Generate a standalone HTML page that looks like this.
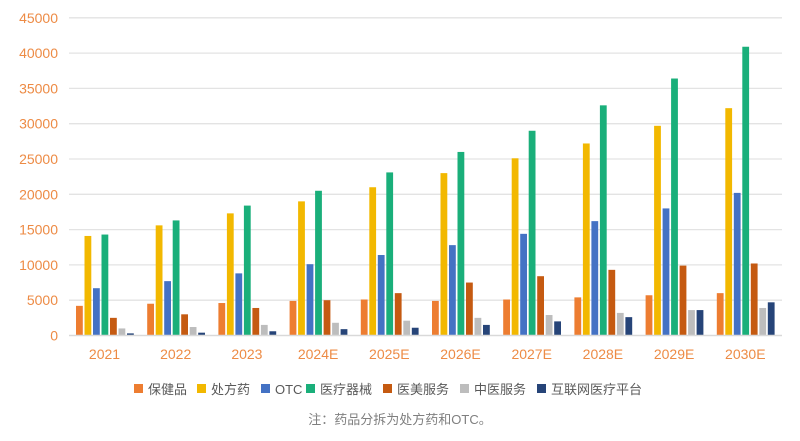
<!DOCTYPE html>
<html><head><meta charset="utf-8"><style>
html,body{margin:0;padding:0;background:#fff;}
svg text{font-family:"Liberation Sans","Noto Sans CJK SC",sans-serif;}
</style></head><body>
<svg width="800" height="436" viewBox="0 0 800 436" xmlns="http://www.w3.org/2000/svg">
<g id="grid" stroke="#e3e3e3" stroke-width="1.3"></g>
<g id="ylab" fill="#ED8B45" font-size="14" text-anchor="end"></g>
<g id="bars"></g>
<line x1="69" y1="335.5" x2="782" y2="335.5" stroke="#d9d9d9" stroke-width="1.5"/>
<g id="xlab" fill="#ED8B45" font-size="14" text-anchor="middle"></g>
<g font-size="13" fill="#595959">
<rect x="134" y="384" width="9" height="9" fill="#ED7D31"/><text x="148" y="394">保健品</text>
<rect x="197" y="384" width="9" height="9" fill="#F2B800"/><text x="211" y="394">处方药</text>
<rect x="261" y="384" width="9" height="9" fill="#4472C4"/><text x="275" y="394">OTC</text>
<rect x="306" y="384" width="9" height="9" fill="#1AAF7A"/><text x="320" y="394">医疗器械</text>
<rect x="383" y="384" width="9" height="9" fill="#C55A11"/><text x="397" y="394">医美服务</text>
<rect x="460" y="384" width="9" height="9" fill="#BDBDBD"/><text x="474" y="394">中医服务</text>
<rect x="537" y="384" width="9" height="9" fill="#264478"/><text x="551" y="394">互联网医疗平台</text>
</g>
<text x="400" y="424" font-size="13" fill="#7f7f7f" text-anchor="middle">注：药品分拆为处方药和OTC。</text>
</svg>
<script>
const ns="http://www.w3.org/2000/svg";
const z=335.5,k=35.3/5000;
const g=document.getElementById('grid'),yl=document.getElementById('ylab');
for(let v=5000;v<=45000;v+=5000){const y=z-v*k;const l=document.createElementNS(ns,'line');l.setAttribute('x1',69);l.setAttribute('x2',782);l.setAttribute('y1',y);l.setAttribute('y2',y);g.appendChild(l);}
for(let v=0;v<=45000;v+=5000){const t=document.createElementNS(ns,'text');t.setAttribute('x',58);t.setAttribute('y',z-v*k+5);t.textContent=v;yl.appendChild(t);}
const cats=["2021","2022","2023","2024E","2025E","2026E","2027E","2028E","2029E","2030E"];
const cols=["#ED7D31","#F2B800","#4472C4","#1AAF7A","#C55A11","#BDBDBD","#264478"];
const d=[[4200,14100,6700,14300,2500,1000,300],[4500,15600,7700,16300,3000,1200,400],[4600,17300,8800,18400,3900,1500,600],[4900,19000,10100,20500,5000,1800,900],[5100,21000,11400,23100,6000,2100,1100],[4900,23000,12800,26000,7500,2500,1500],[5100,25100,14400,29000,8400,2900,2000],[5400,27200,16200,32600,9300,3200,2600],[5700,29700,18000,36400,9900,3600,3600],[6000,32200,20200,40900,10200,3900,4700]];
const b=document.getElementById('bars'),xl=document.getElementById('xlab');
cats.forEach((c,i)=>{const cx=104.5+i*71.2;d[i].forEach((v,j)=>{const r=document.createElementNS(ns,'rect');const x=cx-28.5+j*8.5;r.setAttribute('x',x);r.setAttribute('width',6.8);r.setAttribute('y',z-v*k);r.setAttribute('height',v*k);r.setAttribute('fill',cols[j]);b.appendChild(r);});
const t=document.createElementNS(ns,'text');t.setAttribute('x',cx);t.setAttribute('y',359);t.textContent=c;xl.appendChild(t);});
</script>
</body></html>
